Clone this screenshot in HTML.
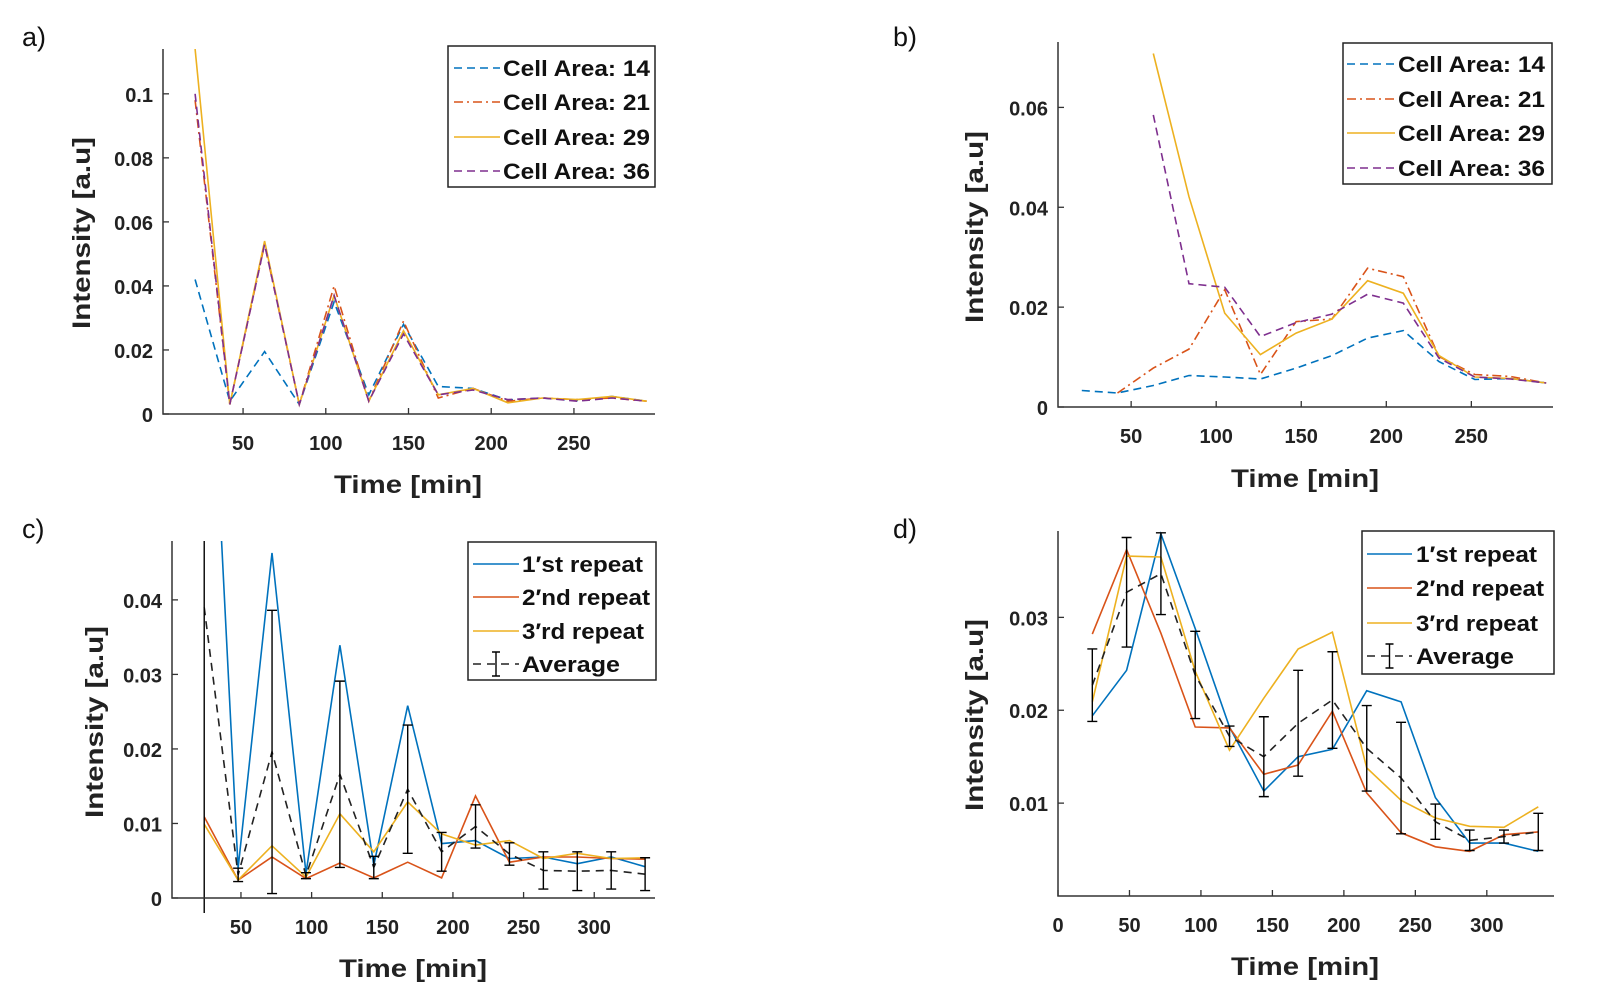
<!DOCTYPE html>
<html><head><meta charset="utf-8"><style>
html,body{margin:0;padding:0;background:#fff;width:1614px;height:985px;overflow:hidden;}
svg{display:block;font-family:"Liberation Sans",sans-serif;}
.tick{font-size:20px;font-weight:bold;fill:#222;}
.alab{font-size:25px;font-weight:bold;fill:#222;}
.leg{font-size:22px;font-weight:bold;fill:#111;}
.plab{font-size:27px;fill:#111;}
</style></head><body>
<svg id="fig" width="1614" height="985" viewBox="0 0 1614 985" xmlns="http://www.w3.org/2000/svg"></svg>
<script>
// ---------- data ----------
const timesAB = [21,42,63,84,105,126,147,168,189,210,231,252,273,294];
const timesCD = [24,48,72,96,120,144,168,192,216,240,264,288,312,336];
const aArea14 = [0.042,0.004,0.0195,0.003,0.035,0.006,0.028,0.0086,0.008,0.0044,0.005,0.0042,0.0055,0.004];
const aArea21 = [0.098,0.003,0.053,0.003,0.040,0.004,0.029,0.005,0.008,0.004,0.005,0.0045,0.005,0.004];
const aArea29 = [0.114,0.003,0.054,0.003,0.037,0.004,0.026,0.006,0.008,0.0035,0.005,0.0045,0.0055,0.004];
const aArea36 = [0.100,0.003,0.053,0.003,0.037,0.004,0.025,0.006,0.0075,0.0045,0.005,0.004,0.005,0.004];
const bArea14 = [0.0033,0.0028,0.0043,0.0063,0.006,0.0056,0.0078,0.0103,0.0138,0.0153,0.0091,0.0055,0.0057,0.0048];
const bArea21 = [null,0.0028,0.0078,0.0116,0.0235,0.0065,0.0171,0.0176,0.0278,0.0261,0.0101,0.0065,0.0061,0.0048];
const bArea29 = [null,null,0.0708,0.0421,0.0188,0.0105,0.0148,0.0176,0.0253,0.0228,0.0103,0.006,0.0057,0.0048];
const bArea36 = [null,null,0.0585,0.0247,0.024,0.0141,0.0169,0.0186,0.0226,0.0208,0.0098,0.006,0.0056,0.0048];
const cRep1 = [0.094,0.004,0.0463,0.0033,0.0339,0.0044,0.0258,0.0073,0.0077,0.0053,0.0055,0.0046,0.0055,0.0042];
const cRep2 = [0.0109,0.0024,0.0055,0.0026,0.0047,0.0027,0.0048,0.0027,0.0137,0.0048,0.0055,0.0055,0.0053,0.0052];
const cRep3 = [0.0099,0.0024,0.007,0.0028,0.0113,0.0062,0.0129,0.0086,0.0071,0.0077,0.0053,0.006,0.0053,0.0054];
const cAvg  = [0.039,0.0031,0.0196,0.003,0.0166,0.0041,0.0146,0.0062,0.0096,0.0059,0.0037,0.0036,0.0037,0.0032];
const cErr  = [0.06,0.0009,0.019,0.0004,0.0125,0.0015,0.0086,0.0026,0.0029,0.0015,0.0025,0.0026,0.0025,0.0022];
const dRep1 = [0.0194,0.0243,0.039,0.0288,0.0182,0.0113,0.015,0.0158,0.0221,0.0209,0.0106,0.0057,0.0057,0.0048];
const dRep2 = [0.0282,0.0373,0.0283,0.0182,0.0181,0.0131,0.0141,0.0199,0.0111,0.0068,0.0053,0.0048,0.0066,0.0069];
const dRep3 = [0.0209,0.0366,0.0365,0.0242,0.0157,0.0213,0.0266,0.0284,0.0138,0.0103,0.0084,0.0075,0.0074,0.0096];
const dAvg  = [0.0227,0.0327,0.0347,0.0238,0.0172,0.015,0.0186,0.0211,0.0159,0.0127,0.008,0.006,0.0064,0.0069];
const dErr  = [0.0039,0.0059,0.0044,0.0047,0.0011,0.0043,0.0057,0.0052,0.0046,0.006,0.0019,0.0011,0.0007,0.002];
const ticksA_x = [50,100,150,200,250];
const ticksA_y = [0,0.02,0.04,0.06,0.08,0.1];
const tickLabA_y = ["0","0.02","0.04","0.06","0.08","0.1"];
const ticksB_y = [0,0.02,0.04,0.06];
const tickLabB_y = ["0","0.02","0.04","0.06"];
const ticksC_x = [50,100,150,200,250,300];
const ticksC_y = [0,0.01,0.02,0.03,0.04];
const tickLabC_y = ["0","0.01","0.02","0.03","0.04"];
const ticksD_x = [0,50,100,150,200,250,300];
const ticksD_y = [0.01,0.02,0.03];
const tickLabD_y = ["0.01","0.02","0.03"];

const C_BLUE="#0072BD", C_OR="#D95319", C_YEL="#EDB120", C_PUR="#7E2F8E";
const NS="http://www.w3.org/2000/svg";
const svg=document.getElementById('fig');
function mk(tag,attrs,parent){const e=document.createElementNS(NS,tag);for(const k in attrs)e.setAttribute(k,attrs[k]);(parent||svg).appendChild(e);return e;}

function panel(p){
  const g=mk('g',{});
  
  
  const sx=v=>p.x0+(v-p.xmin)/(p.xmax-p.xmin)*(p.x1-p.x0);
  const sy=v=>p.y0-(v-p.ymin)/(p.ymax-p.ymin)*(p.y0-p.y1);
  const lo=p.y1, hi=p.y0+15;
  const cid='clip-'+p.id;
  const cp=mk('clipPath',{id:cid},g);
  mk('rect',{x:p.x0,y:p.y1,width:p.x1-p.x0,height:p.y0-p.y1+15},cp);
  const pl=mk('text',{x:p.lx,y:p.ly,class:'plab'},g);pl.textContent=p.id+')';
  
  
  const sg=mk('g',{'clip-path':'url(#'+cid+')'},g);
  p.series.forEach(s=>{
    let d='';let pen=false;
    s.vals.forEach((v,i)=>{ if(v===null){pen=false;return;} d+=(pen?'L':'M')+sx(p.times[i]).toFixed(1)+','+sy(v).toFixed(1);pen=true;});
    const path=mk('path',{d:d,fill:'none',stroke:s.color,'stroke-width':1.6,'stroke-dasharray':s.dash||'none'},sg);
    
    
    if(s.err){
      s.vals.forEach((v,i)=>{
        const x=sx(p.times[i]);
        const ra=sy(v+s.err[i]), rb=sy(v-s.err[i]);
        const ya=Math.max(lo,ra), yb=Math.min(hi,rb);
        let d2=`M${x},${ya}V${yb}`;
        if(ra>=lo) d2+=`M${x-5},${ya}H${x+5}`;
        if(rb<=hi) d2+=`M${x-5},${yb}H${x+5}`;
        const eb=mk('path',{d:d2,stroke:'#000','stroke-width':1.4,fill:'none'},sg);
        
        
      });
    }
  });
  const ax=mk('path',{d:`M${p.x0},${p.y1}V${p.y0}H${p.x1}`,stroke:'#333','stroke-width':1.5,fill:'none'},g);
  
  
  p.xt.forEach(t=>{
    const x=sx(t);
    mk('line',{x1:x,x2:x,y1:p.y0,y2:p.y0-6,stroke:'#333','stroke-width':1.3},g);
    const tx=mk('text',{x:x,y:p.y0+36,'text-anchor':'middle',class:'tick'},g);tx.textContent=t;
    
    
  });
  p.yt.forEach((t,i)=>{
    const y=sy(t);
    mk('line',{x1:p.x0,x2:p.x0+6,y1:y,y2:y,stroke:'#333','stroke-width':1.3},g);
    const ty=mk('text',{x:p.x0-10,y:y+8,'text-anchor':'end',class:'tick'},g);ty.textContent=p.ytl[i];
    
    
  });
  const xl=mk('text',{x:p.xlx,y:p.xly,'text-anchor':'middle',class:'alab',textLength:148,lengthAdjust:'spacingAndGlyphs'},g);xl.textContent='Time [min]';
  
  
  const yl=mk('text',{x:0,y:0,'text-anchor':'middle',class:'alab',transform:`translate(${p.ylx},${p.yly}) rotate(-90)`,textLength:192,lengthAdjust:'spacingAndGlyphs'},g);yl.textContent='Intensity [a.u]';
  
  
  const L=p.leg;
  const lg=mk('g',{},g);
  
  
  mk('rect',{x:L.x,y:L.y,width:L.w,height:L.h,fill:'#fff',stroke:'#222','stroke-width':1.5},lg);
  p.series.forEach((s,i)=>{
    const y=L.ys[i];
    const en=mk('g',{},lg);
    
    
    mk('line',{x1:L.lx0,x2:L.lx1,y1:y,y2:y,stroke:s.color,'stroke-width':1.6,'stroke-dasharray':s.dash||'none'},en);
    if(s.err){const m=(L.lx0+L.lx1)/2;mk('path',{d:`M${m},${y-12}V${y+12}M${m-4},${y-12}H${m+4}M${m-4},${y+12}H${m+4}`,stroke:'#000','stroke-width':1.4},en);}
    const t=mk('text',{x:L.tx,y:y+8,class:'leg',textLength:L.tw[i],lengthAdjust:'spacingAndGlyphs'},en);t.textContent=s.name;
  });
}

const dash1="8,5", dashDot="9,4,2,4";
panel({id:'a',x0:163,x1:655,y0:414,y1:49,xmin:1.6,xmax:299,ymin:0,ymax:0.114,times:timesAB,
  xt:ticksA_x,yt:ticksA_y,ytl:tickLabA_y,lx:22,ly:46,xlx:408,xly:493,ylx:90,yly:233,
  series:[{key:'area14',name:'Cell Area: 14',vals:aArea14,color:C_BLUE,dash:dash1},
          {key:'area21',name:'Cell Area: 21',vals:aArea21,color:C_OR,dash:dashDot},
          {key:'area29',name:'Cell Area: 29',vals:aArea29,color:C_YEL},
          {key:'area36',name:'Cell Area: 36',vals:aArea36,color:C_PUR,dash:dash1}],
  leg:{x:448,y:46,w:207,h:141,ys:[68,102,137,171],lx0:454,lx1:500,tx:503,tw:[147,147,147,147]}});
panel({id:'b',x0:1058,x1:1553,y0:407,y1:42,xmin:7,xmax:298,ymin:0,ymax:0.0731,times:timesAB,
  xt:ticksA_x,yt:ticksB_y,ytl:tickLabB_y,lx:893,ly:46,xlx:1305,xly:487,ylx:983,yly:227,
  series:[{key:'area14',name:'Cell Area: 14',vals:bArea14,color:C_BLUE,dash:dash1},
          {key:'area21',name:'Cell Area: 21',vals:bArea21,color:C_OR,dash:dashDot},
          {key:'area29',name:'Cell Area: 29',vals:bArea29,color:C_YEL},
          {key:'area36',name:'Cell Area: 36',vals:bArea36,color:C_PUR,dash:dash1}],
  leg:{x:1343,y:43,w:209,h:141,ys:[64,99,133,168],lx0:1347,lx1:1395,tx:1398,tw:[147,147,147,147]}});
panel({id:'c',x0:172,x1:655,y0:898,y1:541,xmin:1.2,xmax:343,ymin:0,ymax:0.0479,times:timesCD,
  xt:ticksC_x,yt:ticksC_y,ytl:tickLabC_y,lx:22,ly:538,xlx:413,xly:977,ylx:103,yly:722,
  series:[{key:'rep1',name:'1′st repeat',vals:cRep1,color:C_BLUE},
          {key:'rep2',name:'2′nd repeat',vals:cRep2,color:C_OR},
          {key:'rep3',name:'3′rd repeat',vals:cRep3,color:C_YEL},
          {key:'average',name:'Average',vals:cAvg,color:'#222',dash:'8,6',err:cErr}],
  leg:{x:468,y:542,w:188,h:138,ys:[564,597,631,664],lx0:473,lx1:519,tx:522,tw:[121,128,122,98]}});
panel({id:'d',x0:1058,x1:1554,y0:896,y1:531,xmin:0,xmax:347,ymin:0,ymax:0.0393,times:timesCD,
  xt:ticksD_x,yt:ticksD_y,ytl:tickLabD_y,lx:893,ly:538,xlx:1305,xly:975,ylx:983,yly:715,
  series:[{key:'rep1',name:'1′st repeat',vals:dRep1,color:C_BLUE},
          {key:'rep2',name:'2′nd repeat',vals:dRep2,color:C_OR},
          {key:'rep3',name:'3′rd repeat',vals:dRep3,color:C_YEL},
          {key:'average',name:'Average',vals:dAvg,color:'#222',dash:'8,6',err:dErr}],
  leg:{x:1362,y:531,w:192,h:143,ys:[554,588,623,656],lx0:1367,lx1:1412,tx:1416,tw:[121,128,122,98]}});
</script>
</body></html>
